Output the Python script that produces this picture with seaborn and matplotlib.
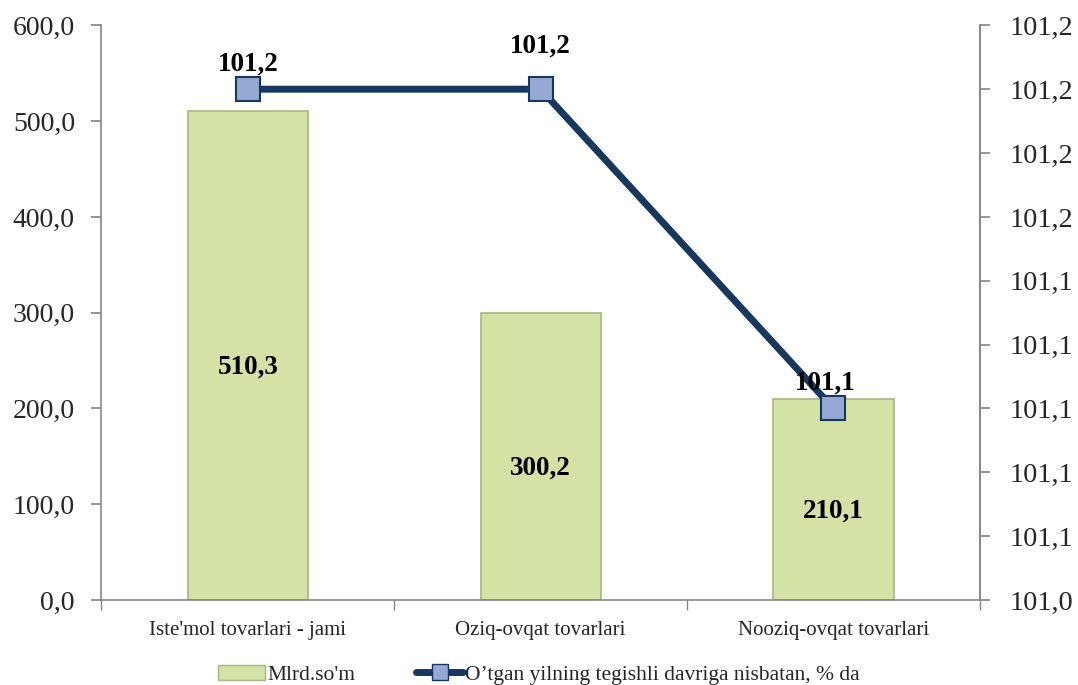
import numpy as np
import pandas as pd
import seaborn as sns
import matplotlib.pyplot as plt
from matplotlib.ticker import FuncFormatter
from matplotlib.patches import Patch
from matplotlib.lines import Line2D

categories = ["Iste'mol tovarlari - jami", "Oziq-ovqat tovarlari", "Nooziq-ovqat tovarlari"]
mlrd_som = [510.3, 300.2, 210.1]
foiz = [101.2, 101.2, 101.1]
bar_name = "Mlrd.so'm"
line_name = "O\u2019tgan yilning tegishli davriga nisbatan, % da"

sns.set_theme(style="white")
plt.rcParams['font.family'] = ['Liberation Serif', 'DejaVu Serif']

df = pd.DataFrame({'kat': categories, 'val': mlrd_som})

fig, ax = plt.subplots(figsize=(10.78, 6.85), dpi=100)
fig.subplots_adjust(left=0.094, right=0.909, top=0.963, bottom=0.124)

sns.barplot(data=df, x='kat', y='val', ax=ax, color='#d4e2a6', width=0.41,
            edgecolor='#a9b584', linewidth=1.2, saturation=1)

ax.set_ylim(0, 600)
ax.set_yticks(np.arange(0, 601, 100))
ax.yaxis.set_major_formatter(FuncFormatter(lambda v, p: f"{v:.1f}".replace('.', ',')))
ax.set_xlim(-0.5, 2.5)
ax.set_xlabel('')
ax.set_ylabel('')
ax.tick_params(axis='y', labelsize=20, length=7, color='#868686', direction='out', left=True, pad=12)
ax.tick_params(axis='x', labelsize=15, length=0, pad=15)
ax.set_xticks(range(len(categories)))
ax.set_xticklabels(categories)
ax.set_xticks([-0.5, 0.5, 1.5, 2.5], minor=True)
ax.tick_params(axis='x', which='minor', length=7, color='#868686', direction='out', bottom=True)

ax.spines['top'].set_visible(False)
for s in ['left', 'bottom', 'right']:
    ax.spines[s].set_color('#868686')
    ax.spines[s].set_linewidth(1.2)

for i, v in enumerate(mlrd_som):
    ax.text(i, v / 2 - 12, f"{v:.1f}".replace('.', ','), ha='center', va='center',
            fontsize=19.5, fontweight='bold', color='black')

ax2 = ax.twinx()
xpos = np.arange(len(categories))
ax2.plot(xpos, foiz, color='#17375e', linewidth=5, marker='s', markersize=17,
         markerfacecolor='#95a9d4', markeredgecolor='#17375e', markeredgewidth=1.5, zorder=5)
ax2.set_ylim(101.04, 101.22)
ax2.set_yticks([101.04 + 0.02 * k for k in range(10)])
ax2.yaxis.set_major_formatter(FuncFormatter(lambda v, p: f"{v + 1e-9:.1f}".replace('.', ',')))
ax2.tick_params(axis='y', labelsize=20.5, length=7, color='#868686', direction='out', right=True, pad=14)
ax2.spines['top'].set_visible(False)
ax2.spines['right'].set_color('#868686')
ax2.spines['right'].set_linewidth(1.2)
ax2.spines['left'].set_visible(False)
ax2.spines['bottom'].set_visible(False)

offsets = [(0, 18), (0, 31), (-6, 18)]
for i, (v, off) in enumerate(zip(foiz, offsets)):
    ax2.annotate(f"{v:.1f}".replace('.', ','), (i, v), xytext=off, textcoords='offset points',
                 ha='center', va='center', fontsize=19.5, fontweight='bold', color='black', zorder=6)

handles = [Patch(facecolor='#d4e2a6', edgecolor='#a9b584', label=bar_name),
           Line2D([0], [0], color='#17375e', linewidth=5, marker='s', markersize=11,
                  markerfacecolor='#95a9d4', markeredgecolor='#17375e', label=line_name)]
fig.legend(handles=handles, loc='lower center', ncol=2, frameon=False, fontsize=15.5,
           bbox_to_anchor=(0.5, -0.028), handlelength=2.2, handletextpad=0.1, columnspacing=2.8)

plt.savefig('out.png', dpi=100)
